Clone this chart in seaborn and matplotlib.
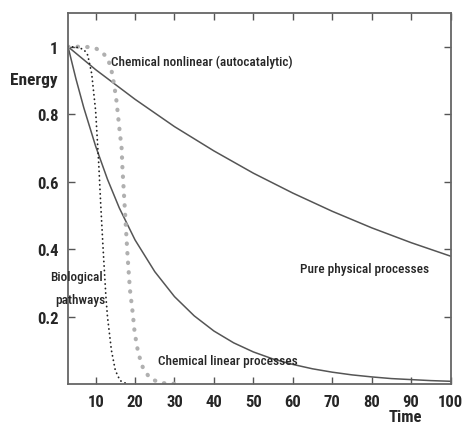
import matplotlib
matplotlib.use('Agg')
import matplotlib.pyplot as plt
import seaborn as sns

# curves
t_phys = [3, 10, 20, 30, 40, 50, 60, 70, 80, 90, 100]
e_phys = [1.0, 0.932, 0.844, 0.763, 0.691, 0.625, 0.566, 0.512, 0.463, 0.419, 0.379]

t_lin = [3, 5, 7, 10, 13, 16, 20, 25, 30, 35, 40, 45, 50, 55, 60, 65, 70, 75, 80, 85, 90, 95, 100]
e_lin = [1.0, 0.905, 0.819, 0.705, 0.607, 0.522, 0.427, 0.333, 0.259, 0.202, 0.157, 0.122,
         0.095, 0.074, 0.058, 0.045, 0.035, 0.027, 0.021, 0.016, 0.013, 0.010, 0.008]

t_bio = [3, 5, 7, 8, 9, 10, 10.8, 11.3, 11.9, 12.6, 13.0, 14.0, 15.0, 16.2, 18]
e_bio = [1.0, 0.999, 0.992, 0.975, 0.92, 0.81, 0.65, 0.53, 0.40, 0.26, 0.20, 0.10, 0.04, 0.01, 0.0]

t_auto = [3, 6, 8, 10.2, 11.9, 13.2, 14.0, 14.7, 15.3, 16.1, 16.6, 16.8, 17.4, 17.7, 18.1,
          18.7, 19.4, 19.9, 20.8, 22.0, 23.7, 26.3, 31.3]
e_auto = [1.0, 1.0, 0.999, 0.994, 0.981, 0.961, 0.931, 0.887, 0.838, 0.749, 0.698, 0.639,
          0.52, 0.459, 0.379, 0.28, 0.211, 0.152, 0.092, 0.048, 0.018, 0.003, 0.0]

x_ticks = [10, 20, 30, 40, 50, 60, 70, 80, 90, 100]
y_ticks = [0.2, 0.4, 0.6, 0.8, 1.0]
y_labels = ['0.2', '0.4', '0.6', '0.8', '1']

sns.set_style('ticks')
plt.rcParams['font.family'] = ['Roboto Condensed', 'DejaVu Sans']

fig = plt.figure(figsize=(4.64, 4.27), dpi=100)
ax = fig.add_axes([0.1466, 0.0984, 0.8244, 0.8689])

sns.lineplot(x=t_phys, y=e_phys, ax=ax, color='#555555', lw=1.1)
sns.lineplot(x=t_lin, y=e_lin, ax=ax, color='#555555', lw=1.1)
sns.lineplot(x=t_auto, y=e_auto, ax=ax, color='#b0b0b0', lw=3,
             linestyle=(0, (0.1, 2.2)), dash_capstyle='round')
sns.lineplot(x=t_bio, y=e_bio, ax=ax, color='#222222', lw=1.3,
             linestyle=(0, (0.1, 2.4)), dash_capstyle='round')

ax.set_xlim(3, 100)
ax.set_ylim(0, 1.1)
ax.set_xticks(x_ticks)
ax.set_yticks(y_ticks)
ax.set_yticklabels(y_labels)
ax.tick_params(direction='in', length=5, width=1, color='#555555', top=True, right=True,
               labelsize=12, pad=7)
for lab in ax.get_xticklabels() + ax.get_yticklabels():
    lab.set_fontweight('bold')
for s in ax.spines.values():
    s.set_visible(True)
    s.set_color('#666666')
    s.set_linewidth(1.3)
ax.set_xlabel('')
ax.set_ylabel('')

# labels in pixel positions of the figure
fs = 9.5
fw = 'medium'
fig.text(34 / 464, 1 - 80 / 427, 'Energy', fontsize=12.5, fontweight='bold', ha='center', va='center')
fig.text(405 / 464, 1 - 418 / 427, 'Time', fontsize=12, fontweight='bold', ha='center', va='center')
fig.text(111 / 464, 1 - 62 / 427, 'Chemical nonlinear (autocatalytic)', fontsize=fs, fontweight=fw,
         ha='left', va='center')
fig.text(365 / 464, 1 - 270 / 427, 'Pure physical processes', fontsize=fs, fontweight=fw,
         ha='center', va='center')
fig.text(228 / 464, 1 - 361 / 427, 'Chemical linear processes', fontsize=fs, fontweight=fw,
         ha='center', va='center')
fig.text(76 / 464, 1 - 278 / 427, 'Biological', fontsize=fs, fontweight=fw, ha='center', va='center')
fig.text(80 / 464, 1 - 301 / 427, 'pathways', fontsize=fs, fontweight=fw, ha='center', va='center')

fig.savefig('out.png', dpi=100)
